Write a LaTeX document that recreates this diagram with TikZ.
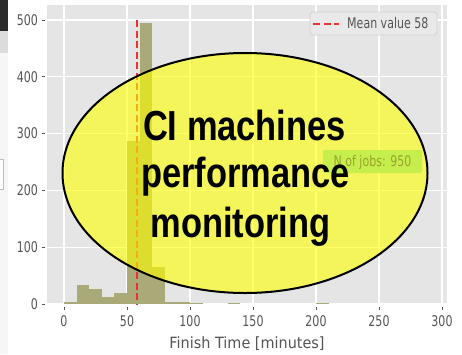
\documentclass[tikz,border=0pt]{standalone}
\usepackage{fontspec}
\setmainfont{DejaVu Sans}
\newfontfamily\titlefont{Liberation Sans}
\newcommand{\sqz}[1]{\scalebox{0.75}[1]{#1}}
\definecolor{plotbg}{HTML}{E5E5E5}
\definecolor{barcol}{HTML}{AAAA78}
\definecolor{meanred}{HTML}{EE3030}
\definecolor{ticktext}{HTML}{555555}
\definecolor{darkbar}{HTML}{2B2B2B}
\definecolor{lightbar}{HTML}{DCDCDC}
\definecolor{stripbg}{HTML}{F6F6F6}
\definecolor{boxedge}{HTML}{BDBDBD}
\definecolor{legbg}{HTML}{E9E9E9}
\definecolor{legedge}{HTML}{D2D2D2}
\definecolor{jobsbox}{HTML}{C6EE4C}
\definecolor{jobstext}{HTML}{9AA22E}
\definecolor{ellyellow}{HTML}{FFFF00}
\tikzset{
  gridline/.style={draw=white, line width=1.1pt},
  barfill/.style={fill=barcol},
  meanline/.style={draw=meanred, line width=2pt, dash pattern=on 7pt off 3.5pt},
  ticklabel/.style={text=ticktext, font=\fontsize{14.7}{16}\selectfont, inner sep=0pt},
  tickmark/.style={draw=ticktext, line width=0.8pt},
  titletext/.style={font=\titlefont\bfseries\fontsize{42}{48}\selectfont, text=black, inner sep=0pt},
}
\begin{document}
\begin{tikzpicture}[x=1pt,y=-1pt]
\useasboundingbox (0,0) rectangle (462,354);
\fill[white] (0,0) rectangle (462,354);
% left strip of the screenshot
\fill[stripbg] (0,0) rectangle (8,354);
\fill[darkbar] (0,0) rectangle (8,31);
\fill[lightbar] (0,31) rectangle (8,53);
\draw[boxedge, fill=white, line width=0.8pt] (-2,159) rectangle (3.5,189);
% plot area
\fill[plotbg] (47,5) rectangle (447,304);
\foreach \v in {0,50,...,300} {
  \draw[gridline] ({64+1.26*\v},5) -- ({64+1.26*\v},304);
  \draw[tickmark] ({64+1.26*\v},306.5) -- ({64+1.26*\v},310);
  \node[ticklabel, anchor=base] (xl\v) at ({64+1.26*\v},326) {\sqz{\v}};
}
\foreach \v in {0,100,...,500} {
  \draw[gridline] (47,{304-0.568*\v}) -- (447,{304-0.568*\v});
  \draw[tickmark] (41.5,{304-0.568*\v}) -- (45,{304-0.568*\v});
  \node[ticklabel, anchor=base east] (yl\v) at (38,{304-0.568*\v+5.3}) {\sqz{\v}};
}
% histogram bars
\foreach \a/\h in {0/3,10/33,20/26,30/13,40/19,50/287,60/495,70/65,80/4,90/3,100/2,130/2,200/2} {
  \fill[barfill] ({64+1.26*\a},304) rectangle ({64+1.26*(\a+10)},{304-0.568*\h});
}
% mean line
\coordinate (mtop) at (137.1,20);
\coordinate (mbot) at (137.1,304);
\draw[meanline] (mtop) -- (mbot);
% legend
\draw[fill=legbg, draw=legedge, line width=0.8pt, rounded corners=3pt] (310,12) rectangle (437,35);
\coordinate (la) at (313,23.5);
\coordinate (lb) at (339,23.5);
\draw[meanline] (la) -- (lb);
\node[ticklabel, anchor=base west] (legtext) at (347,28.8) {\sqz{Mean value 58}};
% axis label
\node[text=ticktext, font=\fontsize{15.5}{17}\selectfont, inner sep=0pt, anchor=base] (xlabel) at (247,348) {\scalebox{0.93}[1]{Finish Time [minutes]}};
% ellipse
\draw[line width=2pt, fill=ellyellow, fill opacity=0.6] (245,173) ellipse [x radius=182.5pt, y radius=120pt];
% N of jobs
\fill[jobsbox, rounded corners=2pt] (323,150) rectangle (422,173);
\node[ticklabel, text=jobstext, anchor=base] (jobs) at (372.5,166.5) {\sqz{N of jobs: 950}};
% title text
\node[titletext, anchor=base] (t1) at (244.5,140) {\scalebox{0.82}[1]{CI machines}};
\node[titletext, anchor=base] (t2) at (245.5,187) {\scalebox{0.82}[1]{performance}};
\node[titletext, anchor=base] (t3) at (240.5,237) {\scalebox{0.82}[1]{monitoring}};
\end{tikzpicture}
\end{document}
